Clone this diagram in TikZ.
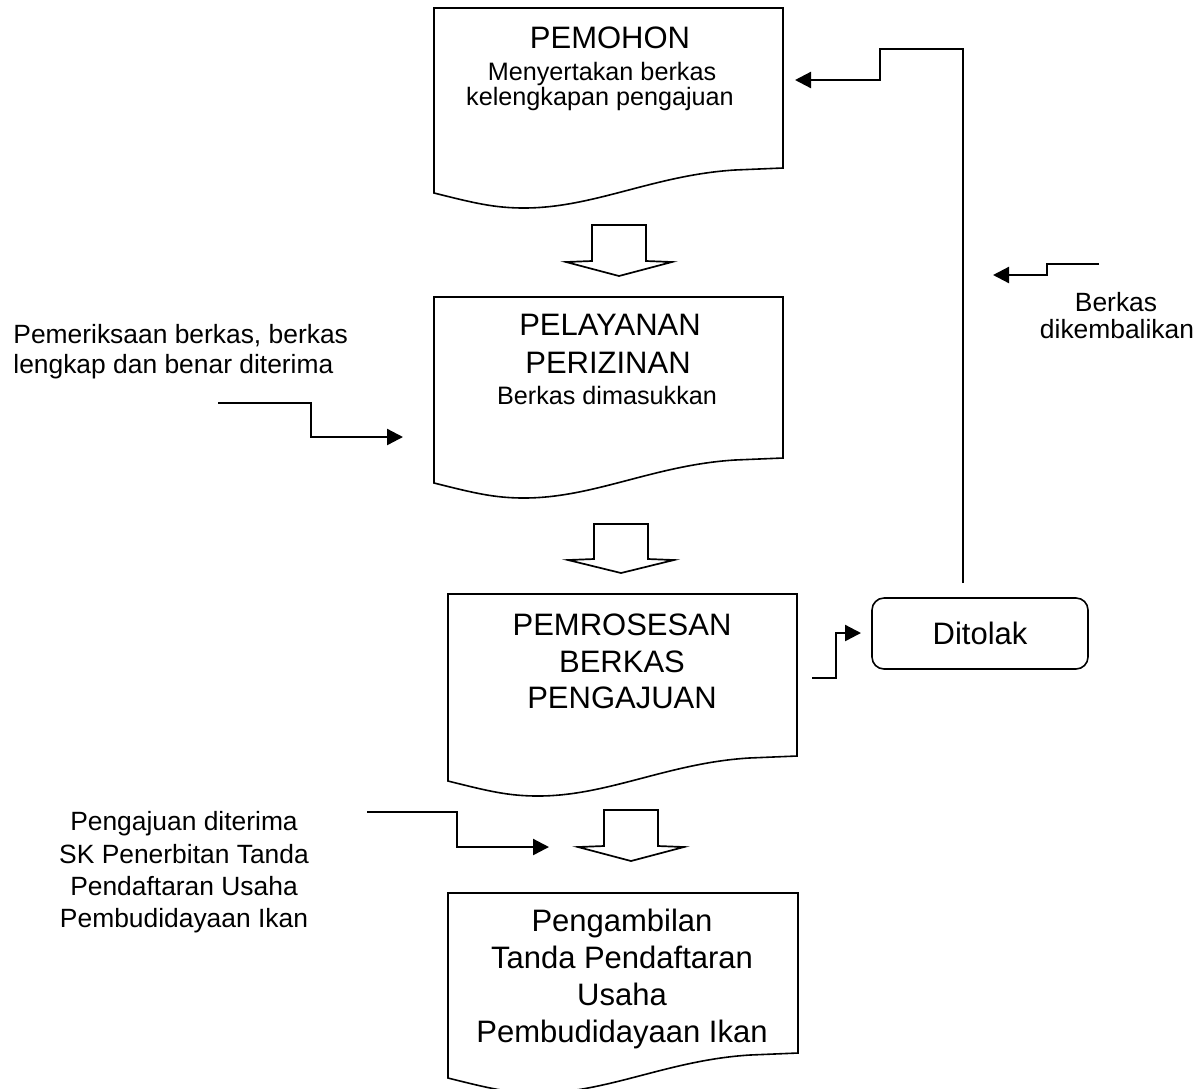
\documentclass[tikz,border=0pt]{standalone}
\usepackage{fontspec}
\setmainfont{Liberation Sans}
\usetikzlibrary{arrows.meta}
\tikzset{
  docshape/.style={draw, line width=0.8pt, line join=miter},
  blockarrow/.style={draw, line width=0.85pt, line join=miter},
  conn/.style={line width=1.15pt, line join=miter, -{Triangle[length=8pt,width=8pt]}},
  bigtxt/.style={font=\fontsize{15.5}{18}\selectfont, inner sep=0pt, anchor=base},
  smalltxt/.style={font=\fontsize{12.6}{15}\selectfont, inner sep=0pt, anchor=base},
  sidetxt/.style={font=\fontsize{13.2}{15}\selectfont, inner sep=0pt, anchor=base},
  sidetxtl/.style={font=\fontsize{13.2}{15}\selectfont, inner sep=0pt, anchor=base west},
  roundbox/.style={draw, line width=0.8pt, rounded corners=6pt, minimum width=108pt, minimum height=35.5pt, inner sep=0pt}
}
\begin{document}
\begin{tikzpicture}[x=0.5pt,y=-0.5pt]
\useasboundingbox (0,0) rectangle (1202,1088);
\clip (0,0) rectangle (1202,1088);

% ---------- documents ----------
\draw[docshape] (434,8) -- (783,8) -- (783,168) -- (735,170)
  .. controls (654,175) and (594,208) .. (524,208)
  .. controls (494,208) and (474,203) .. (434,193) -- cycle;
\draw[docshape] (434,297) -- (783,297) -- (783,458) -- (735,460)
  .. controls (654,465) and (594,498) .. (524,498)
  .. controls (494,498) and (474,493) .. (434,483) -- cycle;
\draw[docshape] (448,594) -- (797,594) -- (797,756) -- (749,758)
  .. controls (668,763) and (608,796) .. (538,796)
  .. controls (508,796) and (488,791) .. (448,781) -- cycle;
\draw[docshape] (448,893) -- (798,893) -- (798,1053) -- (750,1055)
  .. controls (668,1060) and (608,1093) .. (538,1093)
  .. controls (508,1093) and (488,1088) .. (448,1078) -- cycle;

% ---------- texts in documents ----------
\node[bigtxt] (t1a) at (610,48) {PEMOHON};
\node[smalltxt] (t1b) at (602,80) {Menyertakan berkas};
\node[smalltxt] (t1c) at (600,105) {kelengkapan pengajuan};

\node[bigtxt] (t2a) at (610,335) {PELAYANAN};
\node[bigtxt] (t2b) at (608,373) {PERIZINAN};
\node[smalltxt] (t2c) at (607,404) {Berkas dimasukkan};

\node[bigtxt] (t3a) at (622,635) {PEMROSESAN};
\node[bigtxt] (t3b) at (622,672) {BERKAS};
\node[bigtxt] (t3c) at (622,708) {PENGAJUAN};

\node[bigtxt] (t4a) at (622,931) {Pengambilan};
\node[bigtxt] (t4b) at (622,968) {Tanda Pendaftaran};
\node[bigtxt] (t4c) at (622,1005) {Usaha};
\node[bigtxt] (t4d) at (622,1042) {Pembudidayaan Ikan};

% ---------- block arrows ----------
\draw[blockarrow] (592,225) -- (646,225) -- (646,261) -- (672,262) -- (619,276) -- (566,262) -- (592,261) -- cycle;
\draw[blockarrow] (594,524) -- (648,524) -- (648,559) -- (674,560) -- (621,573) -- (568,560) -- (594,559) -- cycle;
\draw[blockarrow] (604,810) -- (658,810) -- (658,846) -- (684,847) -- (631,861) -- (578,847) -- (604,846) -- cycle;

% ---------- Ditolak ----------
\node[roundbox, font=\fontsize{15.5}{18}\selectfont] (ditolak) at (980,633.5) {Ditolak};

% ---------- side labels ----------
\node[sidetxtl] (l1a) at (13,343) {Pemeriksaan berkas, berkas};
\node[sidetxtl] (l1b) at (13,373) {lengkap dan benar diterima};

\node[sidetxt] (l3a) at (184,830) {Pengajuan diterima};
\node[sidetxt] (l3b) at (184,863) {SK Penerbitan Tanda};
\node[sidetxt] (l3c) at (184,895) {Pendaftaran Usaha};
\node[sidetxt] (l3d) at (184,927) {Pembudidayaan Ikan};

\node[sidetxt] (r1a) at (1116,311) {Berkas};
\node[sidetxt] (r1b) at (1117,338) {dikembalikan};

% ---------- connector end points ----------
\coordinate (c1s) at (218,403);
\coordinate (c1e) at (403,437);
\coordinate (c2s) at (963,583);
\coordinate (c2e) at (795,80);
\coordinate (c3s) at (1099,264);
\coordinate (c3e) at (993,275);
\coordinate (c4s) at (812,678);
\coordinate (c4e) at (861,633);
\coordinate (c5s) at (367,812);
\coordinate (c5e) at (549,847);

% ---------- connectors ----------
\draw[conn] (c1s) -- (311,403) -- (311,437) -- (c1e);
\draw[conn] (c2s) -- (963,49) -- (880,49) -- (880,80) -- (c2e);
\draw[conn] (c3s) -- (1047,264) -- (1047,275) -- (c3e);
\draw[conn] (c4s) -- (836,678) -- (836,633) -- (c4e);
\draw[conn] (c5s) -- (457,812) -- (457,847) -- (c5e);
\end{tikzpicture}
\end{document}
